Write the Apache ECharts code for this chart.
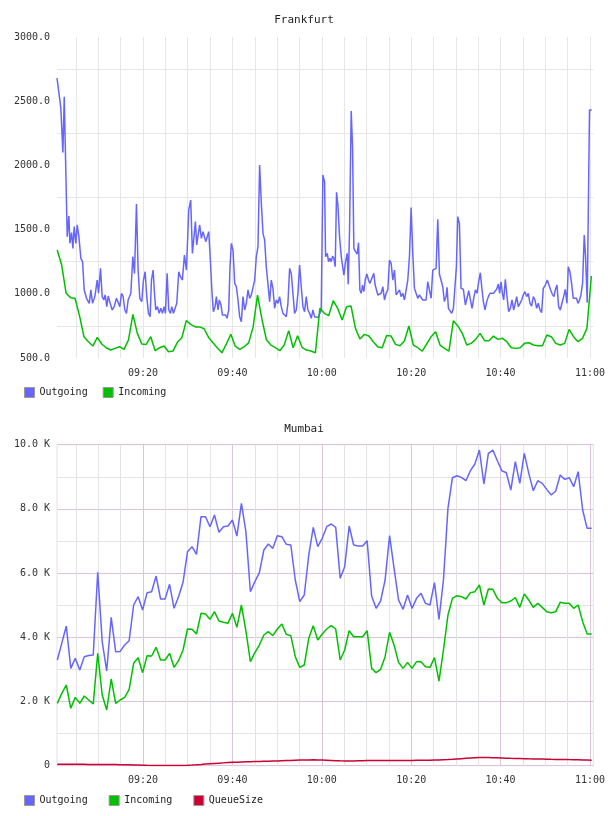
<!DOCTYPE html>
<html><head><meta charset="utf-8">
<script src="https://cdn.jsdelivr.net/npm/echarts@6/dist/echarts.min.js"></script>
<style>html,body{margin:0;padding:0;background:#fff}#c1,#c2{width:608px;height:408px}</style>
</head><body><div id="c1"></div><div id="c2"></div>
<script>
// x values are minutes after 09:00
const xTickMinutes = [5,10,15,20,25,30,35,40,45,50,55,60,65,70,75,80,85,90,95,100,105,110,115,120];
const xLabelMinutes = [20,40,60,80,100,120];

// Frankfurt outgoing samples: [minute, value]
const fraOutgoing = [
[0.75,2680],[1.6,2450],[2.07,2100],[2.37,2535],[2.67,2535],[3.04,1445],[3.41,1606],[3.64,1393],[4.01,1476],[4.31,1354],[4.6,1523],[4.98,1393],[5.27,1536],[5.65,1445],[6.09,1276],[6.47,1250],[6.84,1030],[7.36,965],[7.96,926],[8.33,1030],[8.7,926],[9.22,978],[9.74,1107],[10.04,1004],[10.49,1198],[10.86,978],[11.23,952],[11.53,991],[11.9,900],[12.2,983],[12.65,926],[13.1,874],[13.54,900],[14.06,965],[14.44,978],[14.81,900],[15.18,1004],[15.55,978],[15.93,874],[16.3,848],[16.67,952],[17.27,1004],[17.71,1289],[18.09,1159],[18.53,1699],[18.9,1185],[19.28,965],[19.72,939],[20.1,1107],[20.47,1172],[20.84,978],[21.21,848],[21.59,822],[21.88,1107],[22.26,1185],[22.56,1004],[22.85,874],[23.23,900],[23.6,848],[23.97,887],[24.34,848],[24.72,900],[25.01,848],[25.39,1159],[25.76,874],[26.13,848],[26.43,900],[26.8,848],[27.17,848],[27.55,926],[27.99,1172],[28.37,1133],[28.81,1107],[29.26,1302],[29.71,1185],[30.23,1653],[30.67,1730],
[31.05,1315],[31.34,1302],[31.72,1562],[32.01,1380],[32.39,1471],[32.68,1536],[33.06,1432],[33.43,1484],[33.73,1497],[34.03,1406],[34.4,1393],[34.7,1484],[35.07,1263],[35.44,1004],[35.74,861],[36.11,900],[36.41,978],[36.78,874],[37.08,952],[37.45,913],[37.75,835],[38.12,848],[38.49,835],[38.79,809],[39.17,874],[39.46,1211],[39.76,1393],[40.13,1341],[40.51,1081],[40.88,1055],[41.25,952],[41.62,822],[42.0,783],[42.37,978],[42.74,874],[43.11,926],[43.49,1030],[43.86,965],[44.23,991],[44.6,978],[44.98,1107],[45.35,1289],[45.72,1367],[46.09,2003],[46.47,1704],[46.84,1471],[47.21,1419],[47.58,1211],[47.95,1198],[48.33,939],[48.7,1107],[49.07,1042],[49.44,887],[49.82,952],[50.19,926],[50.56,978],[50.93,900],[51.31,848],[51.68,835],[52.05,822],[52.42,926],[52.8,1198],[53.17,1159],[53.54,1004],[53.91,848],[54.29,874],[54.66,1004],[55.03,1224],[55.4,1055],[55.78,900],[56.15,861],[56.52,978],[56.89,874],[57.27,848],[57.64,809],[58.01,874],[58.38,822],[58.76,822],[59.13,815],[59.5,822],[59.87,870],[60.24,1925],
[60.62,1873],[60.84,1289],[61.22,1315],[61.51,1250],[61.81,1276],[62.11,1250],[62.41,1294],[62.71,1276],[63.0,1211],[63.3,1790],[63.6,1691],[63.97,1445],[64.34,1294],[64.64,1294],[64.94,1146],[65.31,1250],[65.69,1315],[65.91,1074],[66.21,1497],[66.58,2424],[66.88,2146],[67.17,1354],[67.55,1328],[67.92,1310],[68.22,1398],[68.52,1030],[68.81,1004],[69.11,1068],[69.41,1017],[69.71,1107],[70.08,1154],[70.45,1107],[70.75,1081],[71.05,1107],[71.35,1120],[71.64,1159],[71.94,1068],[72.24,1055],[72.54,991],[72.91,991],[73.28,1004],[73.66,1055],[74.03,952],[74.4,1004],[74.77,1030],[75.15,1263],[75.52,1237],[75.89,1107],[76.26,1185],[76.64,991],[77.01,991],[77.38,1030],[77.75,978],[78.12,1004],[78.5,952],[78.87,939],[79.24,1107],[79.61,1289],[79.99,1671],[80.36,1315],[80.73,1042],[81.1,1030],[81.48,965],[81.85,991],[82.22,1004],[82.59,952],[82.97,952],[83.34,952],[83.71,1094],[84.08,1107],[84.46,965],[84.83,1185],[85.2,1185],[85.57,1198],[85.95,1580],[86.32,1154],[86.69,1146],[87.06,1055],[87.44,939],[87.81,978],[88.03,1050],[88.33,887],[88.7,874],[89.07,848],[89.45,887],[89.82,900],[90.12,1211],[90.42,1601],[90.79,1549],[91.16,1042],
[91.68,1035],[92.13,913],[92.43,900],[92.88,1024],[93.25,952],[93.62,887],[93.99,965],[94.37,1030],[94.74,1004],[95.11,1094],[95.48,1164],[95.78,1055],[96.15,939],[96.53,874],[96.9,939],[97.27,978],[97.64,1004],[98.02,1017],[98.39,1004],[98.76,1017],[99.13,1035],[99.51,1076],[99.8,1004],[100.1,1094],[100.4,1004],[100.7,952],[101.07,1113],[101.44,978],[101.81,861],[102.19,887],[102.56,952],[102.93,874],[103.3,926],[103.6,978],[103.97,900],[104.35,926],[104.72,952],[105.09,991],[105.46,1017],[105.84,978],[106.21,1004],[106.58,926],[106.95,905],[107.33,978],[107.7,952],[108.07,887],[108.44,926],[108.82,874],[109.19,853],[109.56,1042],[110.01,1068],[110.46,1107],[110.83,1094],[111.2,1030],[111.57,998],[111.95,978],[112.24,1030],[112.62,1068],[112.99,900],[113.36,874],[113.73,926],[114.11,978],[114.48,1035],[114.85,926],[115.15,1211],[115.52,1172],[115.89,1081],[116.27,965],[116.64,952],[117.01,965],[117.31,926],[117.61,946],[117.98,991],[118.35,1081],[118.72,1458],[119.02,1289],[119.39,931],[119.9,2431],[120.4,2431]
];

// Frankfurt incoming: one sample per ~minute
const fraInStart = 0.8, fraInStep = 0.996;
const fraIncoming = [
1341,1224,1004,970,965,830,666,627,593,661,
609,580,562,575,588,567,640,840,692,609,
606,666,557,580,593,549,554,622,658,791,
762,742,742,728,660,618,578,540,610,685,
592,567,588,618,740,990,800,642,601,580,
557,601,713,580,674,583,562,554,541,887,
848,830,946,887,796,900,905,731,648,684,
671,627,588,580,676,671,606,596,632,749,
601,580,554,609,666,705,601,575,554,791,
750,692,601,614,645,692,635,635,671,645,
653,627,580,575,580,614,619,601,596,596,
679,666,614,601,614,723,666,627,653,731,1139
];

// Mumbai: one sample per ~minute
const mumStart = 0.82, mumStep = 1.0047;
const mumOutgoing = [
3293,3820,4352,3033,3344,2981,3396,3430,3448,6024,
3864,2950,4622,3552,3560,3760,3895,5006,5266,4850,
5390,5421,5909,5193,5193,5650,4902,5266,5712,6667,
6823,6584,7757,7757,7446,7809,7270,7446,7467,7654,
7155,8173,7290,5421,5733,6013,6719,6906,6771,7166,
7134,6896,6875,5785,5110,5317,6563,7425,6823,7083,
7446,7529,7425,5837,6200,7467,6875,6844,6844,7010,
5286,4902,5131,5785,7166,6148,5162,4871,5317,4902,
5214,5370,5058,5006,5702,4559,5785,8017,8972,9034,
8982,8879,9190,9398,9834,8775,9730,9834,9502,9190,
9128,8588,9471,8796,9730,9107,8567,8879,8796,8609,
8432,8557,9055,8920,8972,8692,9159,7965,7394,7394
];
const mumIncoming = [
1943,2254,2514,1787,2130,1943,2171,2047,1922,3500,
2202,1735,2701,1943,2047,2130,2379,3189,3365,2898,
3428,3417,3687,3293,3293,3500,3064,3272,3604,4258,
4248,4102,4746,4725,4559,4798,4507,4466,4435,4746,
4310,5006,4200,3241,3521,3760,4071,4175,4050,4258,
4414,4092,4050,3396,3064,3137,3967,4362,3916,4102,
4258,4362,4258,3293,3604,4206,4019,4019,4019,4206,
3033,2898,3002,3396,4154,3760,3220,3033,3220,3033,
3241,3241,3085,3064,3365,2638,3604,4694,5214,5297,
5266,5193,5390,5421,5629,5006,5504,5494,5214,5079,
5079,5131,5235,4933,5349,5162,4933,5058,4933,4798,
4767,4798,5089,5058,5058,4902,5006,4487,4102,4102
];
const mumQueue = [
45,45,44,44,43,43,42,41,40,40,
39,38,37,35,33,30,27,24,20,16,
12,9,6,4,3,3,4,6,10,15,
22,30,40,52,62,72,80,88,96,104,
110,115,120,124,128,132,136,140,145,150,
155,160,165,170,175,178,180,182,180,178,
172,165,158,152,148,147,150,154,157,160,
162,162,161,160,160,160,160,161,162,164,
166,168,170,172,175,178,185,192,200,210,
220,230,240,248,252,254,252,250,245,240,
235,230,226,222,218,214,212,210,207,204,
200,197,195,193,190,188,184,180,174,168
];

const FONT = 'DejaVu Sans Mono';
const C_OUT = '#6666ff', C_IN = '#00c000', C_Q = '#cc0033';

function hhmm(m) {
  const h = 9 + Math.floor(m / 60), mm = Math.round(m % 60);
  return String(h).padStart(2, '0') + ':' + String(mm).padStart(2, '0');
}
function withTime(values, start, step) {
  return values.map((v, i) => [start + i * step, v]);
}

function xAxisCfg(lineColors) {
  return {
    type: 'value', min: 0.75, max: 120.75,
    axisLine: { show: false },
    axisTick: { show: false, customValues: xTickMinutes },
    axisLabel: { customValues: xLabelMinutes, formatter: hhmm, fontFamily: FONT, fontSize: 10, color: '#333', margin: 10 },
    splitLine: { show: true, lineStyle: { color: lineColors, width: 1 } }
  };
}
function lineSeries(name, data, color) {
  return { name, type: 'line', data, showSymbol: false, symbol: 'none', animation: false, silent: true,
    lineStyle: { color, width: 1.5 }, itemStyle: { color } };
}
function legendCfg(names, gap) {
  return { data: names, left: 24, top: 387, padding: 0, icon: 'rect', itemWidth: 10, itemHeight: 10, itemGap: gap,
    itemStyle: { borderColor: '#999', borderWidth: 1 },
    textStyle: { fontFamily: FONT, fontSize: 10, color: '#222', padding: [0, 0, 0, 0] } };
}

const c1 = echarts.init(document.getElementById('c1'), null, { renderer: 'canvas' });
c1.setOption({
  animation: false,
  title: { text: 'Frankfurt', left: 'center', top: 15, padding: 0, textStyle: { fontFamily: FONT, fontSize: 11, fontWeight: 'normal', color: '#222' } },
  legend: legendCfg(['Outgoing', 'Incoming'], 15),
  grid: { left: 57, top: 37, width: 537, height: 321, show: false },
  xAxis: xAxisCfg('#e6e6e6'),
  yAxis: {
    type: 'value', min: 500, max: 3000, interval: 250,
    axisLine: { show: false }, axisTick: { show: false },
    axisLabel: { fontFamily: FONT, fontSize: 10, color: '#333', margin: 7,
      formatter: v => (v % 500 === 0 ? v.toFixed(1) : '') },
    splitLine: { show: true, lineStyle: { color: ['rgba(0,0,0,0)', '#e6e6e6'], width: 1 } }
  },
  series: [
    lineSeries('Outgoing', fraOutgoing, C_OUT),
    lineSeries('Incoming', withTime(fraIncoming, fraInStart, fraInStep), C_IN)
  ]
});

const c2 = echarts.init(document.getElementById('c2'), null, { renderer: 'canvas' });
c2.setOption({
  animation: false,
  title: { text: 'Mumbai', left: 'center', top: 16, padding: 0, textStyle: { fontFamily: FONT, fontSize: 11, fontWeight: 'normal', color: '#222' } },
  legend: legendCfg(['Outgoing', 'Incoming', 'QueueSize'], 21),
  grid: { left: 57, top: 36.7, width: 537, height: 321, show: true, borderColor: '#ecdcec', borderWidth: 1, backgroundColor: 'transparent' },
  xAxis: xAxisCfg(['#e4e4e4', '#e4e4e4', '#e4e4e4', '#dcc4dc']),
  yAxis: {
    type: 'value', min: 0, max: 10000, interval: 1000,
    axisLine: { show: false }, axisTick: { show: false },
    axisLabel: { fontFamily: FONT, fontSize: 10, color: '#333', margin: 7,
      formatter: v => (v === 0 ? '0' : (v % 2000 === 0 ? (v / 1000).toFixed(1) + ' K' : '')) },
    splitLine: { show: true, lineStyle: { color: ['#dcc4dc', '#e4e4e4'], width: 1 } }
  },
  series: [
    lineSeries('Outgoing', withTime(mumOutgoing, mumStart, mumStep), C_OUT),
    lineSeries('Incoming', withTime(mumIncoming, mumStart, mumStep), C_IN),
    lineSeries('QueueSize', withTime(mumQueue, mumStart, mumStep), C_Q)
  ]
});
</script></body></html>
